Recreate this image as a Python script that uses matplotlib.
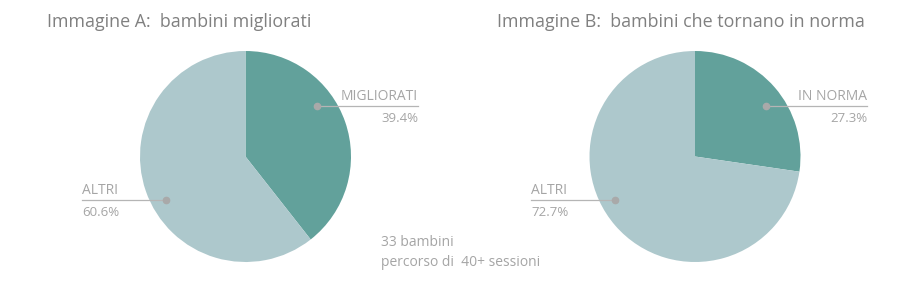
import matplotlib
matplotlib.use("Agg")
import matplotlib.pyplot as plt

titles = ["Immagine A:  bambini migliorati", "Immagine B:  bambini che tornano in norma"]
main_labels = ["MIGLIORATI", "IN NORMA"]
main_values = [39.4, 27.3]
other_label = "ALTRI"
other_values = [60.6, 72.7]
note_lines = ["33 bambini", "percorso di  40+ sessioni"]

dark = "#62a19b"
light = "#adc8cc"
title_col = "#808080"
lab_col = "#a5a5a5"
line_col = "#b5b5b5"
dot_col = "#a9a9a9"

W, H = 920, 291
fig = plt.figure(figsize=(W / 100, H / 100), dpi=100)
ax = fig.add_axes([0, 0, 1, 1])
plt.rcParams['font.family'] = ['Open Sans', 'DejaVu Sans']

centers = [(245.5, H - 156.5), (695.0, H - 156.5)]
title_x = [47, 497]
R = 105.5

for i in range(2):
    cx, cy = centers[i]
    ax.pie([main_values[i], other_values[i]], colors=[dark, light], startangle=90,
           counterclock=False, center=(cx, cy), radius=R,
           wedgeprops=dict(linewidth=0))
    ax.text(title_x[i], H - 22, titles[i], fontsize=12.9, color=title_col,
            ha="left", va="center")
    # main label (right)
    dx, dy = cx + 71.5, cy + 50.5
    rx = cx + 172.5
    ax.plot([dx, rx], [dy, dy], color=line_col, lw=0.9, zorder=3)
    ax.plot([dx], [dy], "o", ms=4.5, color=dot_col, zorder=4)
    ax.text(rx, dy + 1.5, main_labels[i], fontsize=10, color=lab_col,
            ha="right", va="bottom")
    ax.text(rx, dy - 6, f"{main_values[i]:.1f}%", fontsize=9.5, color=lab_col,
            ha="right", va="top")
    # other label (left)
    ox, oy = cx - 79.5, cy - 43.5
    lx = cx - 163.5
    ax.plot([lx, ox], [oy, oy], color=line_col, lw=0.9, zorder=3)
    ax.plot([ox], [oy], "o", ms=4.5, color=dot_col, zorder=4)
    ax.text(lx, oy + 1.5, other_label, fontsize=10, color=lab_col,
            ha="left", va="bottom")
    ax.text(lx, oy - 6, f"{other_values[i]:.1f}%", fontsize=9.5, color=lab_col,
            ha="left", va="top")

ax.text(381, H - 242, note_lines[0], fontsize=10, color=lab_col, ha="left", va="center")
ax.text(381, H - 263, note_lines[1], fontsize=10, color=lab_col, ha="left", va="center")

ax.set_xlim(0, W)
ax.set_ylim(0, H)
ax.set_aspect("auto")
ax.axis("off")
fig.savefig("out.png", dpi=100, facecolor="white")
